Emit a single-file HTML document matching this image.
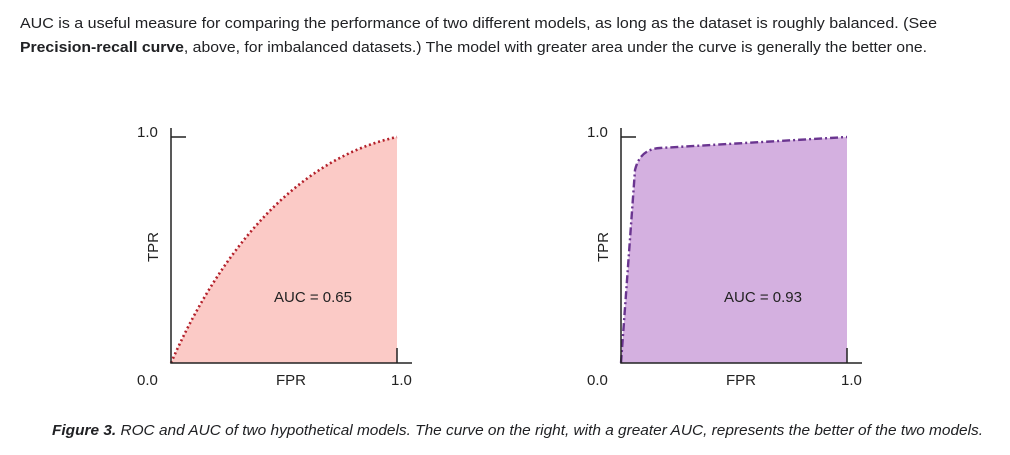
<!DOCTYPE html>
<html><head><meta charset="utf-8"><style>
html,body{margin:0;padding:0;background:#fff;}
svg{display:block;font-family:"Liberation Sans",Arial,sans-serif;}
</style></head><body>
<svg width="1010" height="455" viewBox="0 0 1010 455" xmlns="http://www.w3.org/2000/svg">
<text x="20" y="28" font-size="15" fill="#202124" textLength="917" lengthAdjust="spacingAndGlyphs">AUC is a useful measure for comparing the performance of two different models, as long as the dataset is roughly balanced. (See</text>
<text x="20" y="52" font-size="15" fill="#202124" textLength="907" lengthAdjust="spacingAndGlyphs"><tspan font-weight="bold">Precision-recall curve</tspan>, above, for imbalanced datasets.) The model with greater area under the curve is generally the better one.</text>

<!-- left chart -->
<path d="M171,363 C215,262 290,160 397,137 L397,363 Z" fill="#fbcac6"/>
<path d="M171,363 C215,262 290,160 397,137" fill="none" stroke="#b3202a" stroke-width="2.6" stroke-dasharray="2,2.8"/>
<path d="M171,128 L171,363 L412,363 M171,137 L186,137 M397,348 L397,363" fill="none" stroke="#222" stroke-width="1.5"/>
<text x="137" y="137" font-size="15" fill="#222">1.0</text>
<text x="137" y="385" font-size="15" fill="#222">0.0</text>
<text x="391" y="385" font-size="15" fill="#222">1.0</text>
<text x="276" y="385" font-size="15" fill="#222">FPR</text>
<text transform="translate(158,262) rotate(-90)" font-size="15" fill="#222">TPR</text>
<text x="274" y="302" font-size="15" fill="#222">AUC = 0.65</text>

<!-- right chart -->
<path d="M621,363 L635,170 Q640,149 660,148 L847,137 L847,363 Z" fill="#d4b0e0"/>
<path d="M621,363 L635,170 Q640,149 660,148 L847,137" fill="none" stroke="#6a3590" stroke-width="2.4" stroke-dasharray="8,3,2,3"/>
<path d="M621,128 L621,363 L862,363 M621,137 L636,137 M847,348 L847,363" fill="none" stroke="#222" stroke-width="1.5"/>
<text x="587" y="137" font-size="15" fill="#222">1.0</text>
<text x="587" y="385" font-size="15" fill="#222">0.0</text>
<text x="841" y="385" font-size="15" fill="#222">1.0</text>
<text x="726" y="385" font-size="15" fill="#222">FPR</text>
<text transform="translate(608,262) rotate(-90)" font-size="15" fill="#222">TPR</text>
<text x="724" y="302" font-size="15" fill="#222">AUC = 0.93</text>

<text x="52" y="435" font-size="15" font-style="italic" fill="#202124" textLength="931" lengthAdjust="spacingAndGlyphs"><tspan font-weight="bold">Figure 3.</tspan> ROC and AUC of two hypothetical models. The curve on the right, with a greater AUC, represents the better of the two models.</text>
</svg>
</body></html>
